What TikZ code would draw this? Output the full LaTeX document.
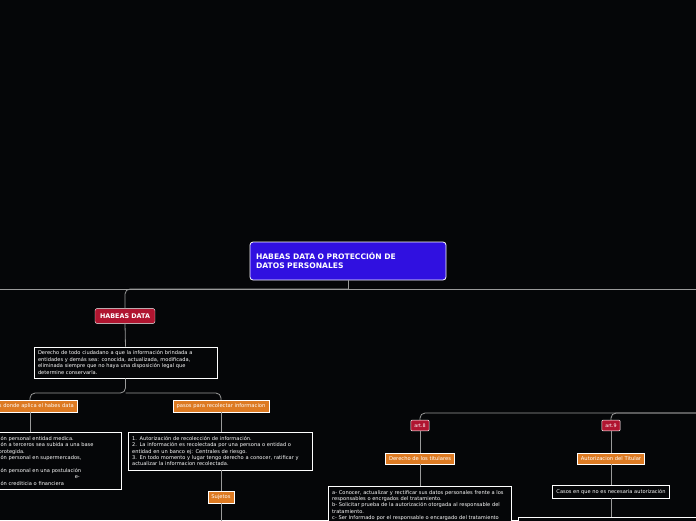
\documentclass[tikz,border=0pt]{standalone}
\usepackage{fontspec}
\setmainfont{DejaVu Sans}
\usetikzlibrary{positioning}
\hyphenpenalty=10000
\definecolor{bg}{HTML}{050608}
\definecolor{titleblue}{HTML}{3010E0}
\definecolor{redtag}{HTML}{B01530}
\definecolor{orangetag}{HTML}{DD7A22}
\definecolor{wire}{HTML}{9A9A9A}
\begin{document}
\begin{tikzpicture}[x=1pt,y=-1pt,
  main_title/.style={draw=white,line width=0.8pt,fill=titleblue,rounded corners=3pt,text=white,font=\bfseries\fontsize{7.6}{9}\selectfont,align=left,text width=184pt,inner sep=6pt,minimum height=38pt},
  red_tag/.style={draw=white!70,fill=redtag,rounded corners=2pt,text=white,font=\bfseries\fontsize{6.4}{7}\selectfont,inner sep=5pt},
  small_tag/.style={draw=white!60,fill=redtag,rounded corners=1pt,text=white,font=\fontsize{4.8}{5}\selectfont,inner sep=3.5pt},
  orange_tag/.style={draw=white!50,fill=orangetag,text=white,font=\fontsize{5.2}{6}\selectfont,inner sep=3.5pt},
  text_box/.style={draw=white!60,fill=bg,text=white,font=\fontsize{5.1}{6.4}\selectfont,align=left,inner sep=4pt},
  link/.style={draw=wire,line width=0.8pt,rounded corners=5pt}]
\fill[bg] (0,0) rectangle (696,520);
\useasboundingbox (0,0) rectangle (696,520);
\clip (0,0) rectangle (696,520);

\node[main_title] (title) at (348,261) {HABEAS DATA O PROTECCIÓN DE\\DATOS PERSONALES};
\node[red_tag] (habeas) at (125,316) {HABEAS DATA};
\node[text_box,text width=175pt,minimum height=31pt] (defin) at (125.5,362.5) {Derecho de todo ciudadano a que la información brindada a entidades y demás sea: conocida, actualizada, modificada, eliminada siempre que no haya una disposición legal que determine conservarla.};
\node[orange_tag] (donde) at (30,406) {Casos donde aplica el habes data};
\node[orange_tag] (pasos) at (221,406) {pasos para recolectar informacion};
\node[text_box,anchor=north east,text width=142pt] (casos) at (121,432) {-Información personal  entidad medica.\\-Información a terceros sea subida a una base\\ de datos protegida.\\-Información personal en supermercados,\\ comercio.\\-Información personal en una postulación\\ \hspace*{100pt}e-\\-Información crediticia o financiera};
\node[text_box,text width=176pt,anchor=north west] (pasosbox) at (128,432) {1. Autorización de recolección de información.\\2. La información es recolectada por una persona o entidad o entidad en un banco ej: Centrales de riesgo.\\3. En todo momento y lugar tengo derecho a conocer, ratificar y actualizar la informacion recolectada.};
\node[orange_tag] (sujetos) at (221,497) {Sujetos};

\node[small_tag] (art8) at (420,425.5) {art.8};
\node[small_tag] (art9) at (611,425.5) {art.9};
\node[orange_tag] (derecho) at (420,458.5) {Derecho de los titulares};
\node[orange_tag] (autoriz) at (611,458.5) {Autorizacion del Titular};
\node[text_box,text width=175pt,anchor=north west] (derbox) at (328,486) {a- Conocer, actualizar y rectificar sus datos personales frente a los responsables o encrgados del tratamiento.\\b- Solicitar prueba de la autorización otorgada al responsable del tratamiento.\\c- Ser Informado por el responsable o encargado del tratamiento};
\node[text_box] (nonec) at (611,491.5) {Casos en que no es necesaria autorización};
\coordinate (lowbox) at (518,517);
\node[text_box,anchor=north west,text width=200pt,minimum height=20pt] at (lowbox) {};

\coordinate (hub) at (348,289);
\coordinate (lefthub) at (0,289);
\coordinate (righthub) at (696,289);
\coordinate (farright) at (696,413);
\coordinate (defhub) at (125.5,393);

\draw[link] (title.south) -- (hub);
\draw[link] (lefthub) -- (righthub);
\draw[link] (hub) -| (habeas.north);
\draw[link] (habeas.south) -- (defin.north);
\draw[link] (defin.south) -- (defhub) -| (donde.north);
\draw[link] (defhub) -| (pasos.north);
\draw[link] (donde.south) -- (donde.south |- casos.north);
\draw[link] (pasos.south) -- (pasosbox.north -| pasos.south);
\draw[link] (pasosbox.south -| sujetos.north) -- (sujetos.north);
\draw[link] (sujetos.south) -- ++(0,30);
\draw[link] (art8.north) |- (farright);
\draw[link] (art9.north) |- (farright);
\draw[link] (art8.south) -- (derecho.north);
\draw[link] (art9.south) -- (autoriz.north);
\draw[link] (derecho.south) -- (derecho.south |- derbox.north);
\draw[link] (autoriz.south) -- (nonec.north);
\draw[link] (nonec.south) -- (nonec.south |- lowbox);
\end{tikzpicture}
\end{document}
